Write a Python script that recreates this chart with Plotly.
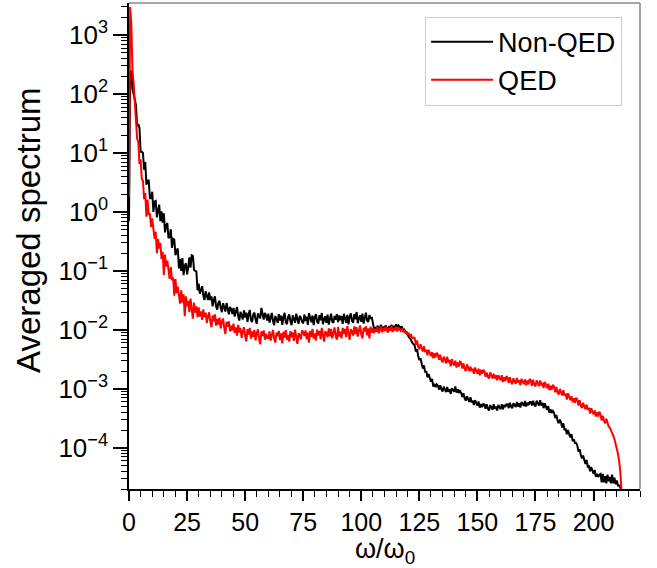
import plotly.graph_objects as go

# ---- data ----
# first samples near omega/omega0 = 0
x_head = [0, 0.5, 1, 1.5, 2, 2.5]
nonqed_head = [0.7, 200, 250, 120, 100, 75]
qed_head = [1.8, 3000, 1500, 250, 150, 70]

# samples for omega/omega0 = 3.0, 3.5, 4.0, ..., 212.0
x_step = 0.5
x_start = 3.0

nonqed_body = [
    # 3.0 - 29.5
    65, 28.5, 31, 27, 10.5, 10.5, 10, 5.2, 7, 2.9,
    3.4, 3.4, 1.7, 1.7, 2.2, 1.0, 1.5, 1.54, 0.81, 1.05,
    1.33, 0.7, 1.02, 0.66, 0.95, 0.45, 0.6, 0.65, 0.36, 0.38,
    0.51, 0.245, 0.35, 0.34, 0.185, 0.22, 0.24, 0.11, 0.16, 0.1,
    0.165, 0.085, 0.12, 0.135, 0.087, 0.115, 0.17, 0.114, 0.184, 0.18,
    0.104, 0.1, 0.098, 0.047,
    # 30.0 - 74.5
    0.061, 0.041, 0.048, 0.055, 0.038, 0.032, 0.045, 0.038, 0.032, 0.043,
    0.032, 0.037, 0.025, 0.032, 0.037, 0.025, 0.022, 0.029, 0.031, 0.0235,
    0.02, 0.0284, 0.0247, 0.0204, 0.0285, 0.0218, 0.0183, 0.0245, 0.0223, 0.0185,
    0.0236, 0.0168, 0.021, 0.0244, 0.0171, 0.0144, 0.0202, 0.018, 0.015, 0.0214,
    0.0162, 0.0196, 0.0136, 0.0184, 0.0218, 0.0148, 0.0136, 0.0182, 0.0196, 0.0149,
    0.0126, 0.0191, 0.0175, 0.0157, 0.0236, 0.0184, 0.0149, 0.0194, 0.0175, 0.0144,
    0.0189, 0.0133, 0.0164, 0.0194, 0.014, 0.012, 0.0172, 0.0153, 0.0132, 0.0185,
    0.0144, 0.0175, 0.0122, 0.0164, 0.0195, 0.0134, 0.0125, 0.0167, 0.0182, 0.014,
    0.012, 0.0176, 0.0157, 0.0132, 0.0188, 0.0147, 0.0126, 0.0173, 0.0161, 0.0137,
    # 75.0 - 104.5
    0.0129, 0.0182, 0.0141, 0.0167, 0.0122, 0.0192, 0.0155, 0.0134, 0.0175, 0.012,
    0.0164, 0.0185, 0.0137, 0.0128, 0.0178, 0.0146, 0.0193, 0.0125, 0.0152, 0.017,
    0.0132, 0.0181, 0.0123, 0.016, 0.0188, 0.0138, 0.0131, 0.0172, 0.0149, 0.0184,
    0.0135, 0.0176, 0.0146, 0.0171, 0.0126, 0.0187, 0.0159, 0.0131, 0.0179, 0.0124,
    0.0168, 0.019, 0.0142, 0.0133, 0.0185, 0.0152, 0.0201, 0.013, 0.0158, 0.0177,
    0.0137, 0.0188, 0.0128, 0.0166, 0.0196, 0.0144, 0.0136, 0.0179, 0.0155, 0.0165,
    # 105.0 - 122.5
    0.0125, 0.0104, 0.0112, 0.0097, 0.0118, 0.0101, 0.0109, 0.0121, 0.0099, 0.0113,
    0.0103, 0.0119, 0.0106, 0.0098, 0.0115, 0.0108, 0.0122, 0.0101, 0.0117, 0.0105,
    0.0124, 0.0109, 0.0119, 0.0113, 0.0108, 0.0114, 0.0099, 0.0101, 0.0094, 0.0091,
    0.0084, 0.0079, 0.0072, 0.0066, 0.006, 0.0056,
    # 123.0 - 212.0
    0.0054, 0.0043, 0.0047, 0.0036, 0.0031, 0.0033, 0.0028, 0.0022, 0.0025, 0.0019,
    0.002, 0.00156, 0.00178, 0.0015, 0.00132, 0.00147, 0.00109, 0.00122, 0.00107, 0.00119,
    0.00113, 0.00097, 0.00115, 0.00098, 0.0009, 0.00109, 0.00099, 0.00088, 0.00108, 0.00089,
    0.00098, 0.00082, 0.00102, 0.00093, 0.00089, 0.0011, 0.00086, 0.00098, 0.00085, 0.00092,
    0.00086, 0.00073, 0.00084, 0.00069, 0.00063, 0.00075, 0.00067, 0.0006, 0.00072, 0.00059,
    0.00063, 0.00053, 0.00064, 0.00056, 0.00052, 0.00061, 0.00048, 0.00055, 0.00049, 0.00055,
    0.00054, 0.00046, 0.00055, 0.00046, 0.00043, 0.00053, 0.00049, 0.00044, 0.00055, 0.00046,
    0.0005, 0.00043, 0.00053, 0.00048, 0.00045, 0.00055, 0.00045, 0.00053, 0.00049, 0.00055,
    0.00055, 0.00047, 0.00058, 0.0005, 0.00047, 0.00057, 0.00054, 0.00049, 0.0006, 0.0005,
    0.00057, 0.00048, 0.0006, 0.00054, 0.00051, 0.00062, 0.0005, 0.00058, 0.00053, 0.0006,
    0.0006, 0.00052, 0.00063, 0.00054, 0.0005, 0.00063, 0.00058, 0.00052, 0.00064, 0.00052,
    0.00058, 0.00047, 0.00057, 0.00049, 0.00044, 0.00051, 0.00039, 0.00045, 0.00039, 0.00042,
    0.00039, 0.00032, 0.00036, 0.00029, 0.00026, 0.0003, 0.00027, 0.00022, 0.00026, 0.0002,
    0.00021, 0.00017, 0.0002, 0.00017, 0.00015, 0.00017, 0.00013, 0.00014, 0.00012, 0.00012,
    0.00011, 0.000086, 0.000095, 0.000076, 0.000066, 0.000074, 0.000063, 0.000053, 0.000062, 0.000048,
    0.000049, 0.00004, 0.000047, 0.00004, 0.000036, 0.000042, 0.000032, 0.000036, 0.000032, 0.000035,
    0.000036, 0.000026, 0.000036, 0.000026, 0.000033, 0.000025, 0.000035, 0.000027, 0.000032, 0.000025,
    0.000035, 0.000025, 0.000031, 0.000024, 0.000028, 0.000023, 0.000023, 0.000021, 0.00002,
]

qed_body = [
    # 3.0 - 29.5
    44, 17.6, 15.4, 6.5, 7.8, 3.6, 3.4, 1.65, 2.1, 0.83,
    1.6, 0.89, 0.95, 0.56, 0.78, 0.48, 0.35, 0.46, 0.2, 0.35,
    0.24, 0.3, 0.16, 0.21, 0.085, 0.19, 0.118, 0.15, 0.105, 0.073,
    0.117, 0.07, 0.078, 0.038, 0.073, 0.042, 0.054, 0.039, 0.028, 0.047,
    0.029, 0.04, 0.017, 0.037, 0.025, 0.031, 0.02, 0.034, 0.023, 0.0155,
    0.029, 0.0196, 0.025, 0.0164,
    # 30.0 - 59.5
    0.024, 0.0168, 0.0205, 0.0148, 0.0223, 0.0164, 0.0196, 0.0131, 0.0168, 0.0198,
    0.0139, 0.0111, 0.0176, 0.014, 0.0183, 0.0118, 0.0154, 0.0123, 0.0161, 0.0106,
    0.0137, 0.0156, 0.0109, 0.0085, 0.0138, 0.0113, 0.0139, 0.0094, 0.0118, 0.0098,
    0.0127, 0.0089, 0.011, 0.008, 0.0122, 0.009, 0.0108, 0.0073, 0.0094, 0.0111,
    0.0079, 0.0064, 0.0103, 0.0083, 0.0108, 0.0071, 0.0094, 0.0076, 0.01, 0.0066,
    0.0087, 0.0102, 0.0071, 0.0057, 0.0094, 0.0079, 0.0098, 0.0068, 0.0086, 0.0073,
    # 60.0 - 104.5
    0.0072, 0.0094, 0.0066, 0.0085, 0.01, 0.007, 0.0061, 0.009, 0.0078, 0.0096,
    0.0067, 0.0087, 0.0059, 0.0093, 0.0074, 0.0099, 0.0068, 0.0082, 0.0063, 0.0095,
    0.0075, 0.009, 0.0065, 0.0101, 0.0071, 0.0058, 0.0088, 0.0081, 0.0069, 0.0098,
    0.0091, 0.0079, 0.0098, 0.0069, 0.009, 0.0061, 0.0096, 0.0076, 0.0104, 0.0071,
    0.0087, 0.0066, 0.0101, 0.008, 0.0096, 0.0069, 0.0108, 0.0077, 0.0063, 0.0095,
    0.0088, 0.0075, 0.0106, 0.0078, 0.0104, 0.0072, 0.0093, 0.011, 0.0077, 0.0068,
    0.0112, 0.0077, 0.0093, 0.0072, 0.0108, 0.0086, 0.0104, 0.0075, 0.0116, 0.0082,
    0.0068, 0.0102, 0.0094, 0.008, 0.0115, 0.0085, 0.0111, 0.0077, 0.0101, 0.0119,
    0.0083, 0.0072, 0.0108, 0.0094, 0.0115, 0.0081, 0.0106, 0.0072, 0.0113, 0.0089,
    # 105.0 - 122.5
    0.0108, 0.0088, 0.0104, 0.0093, 0.0112, 0.0087, 0.0101, 0.0113, 0.0091, 0.0106,
    0.0095, 0.0114, 0.0099, 0.009, 0.0109, 0.0097, 0.0115, 0.0092, 0.0107, 0.0098,
    0.0113, 0.0094, 0.0108, 0.0101, 0.0096, 0.0105, 0.0092, 0.0097, 0.0088, 0.0094,
    0.0083, 0.0088, 0.0078, 0.0081, 0.0072, 0.0074,
    # 123.0 - 212.0
    0.0073, 0.0056, 0.0066, 0.0052, 0.0047, 0.0057, 0.005, 0.0043, 0.0053, 0.0042,
    0.0046, 0.0037, 0.0046, 0.004, 0.0036, 0.0042, 0.0033, 0.004, 0.0034, 0.0041,
    0.0038, 0.0031, 0.0038, 0.0031, 0.0028, 0.0035, 0.0032, 0.0027, 0.0035, 0.0028,
    0.0031, 0.0024, 0.0032, 0.0027, 0.0025, 0.003, 0.0023, 0.0028, 0.0024, 0.0029,
    0.0028, 0.0022, 0.0027, 0.0022, 0.002, 0.0026, 0.0022, 0.002, 0.0024, 0.002,
    0.0022, 0.0018, 0.0023, 0.002, 0.0018, 0.0022, 0.0017, 0.0021, 0.0018, 0.0021,
    0.002, 0.0016, 0.0019, 0.0016, 0.0015, 0.0019, 0.0017, 0.0015, 0.0018, 0.0015,
    0.0017, 0.0014, 0.0017, 0.0015, 0.0014, 0.0017, 0.0013, 0.00157, 0.00134, 0.00164,
    0.00154, 0.00125, 0.00157, 0.0013, 0.0012, 0.00151, 0.00138, 0.00122, 0.00153, 0.00128,
    0.0014, 0.00115, 0.00148, 0.0013, 0.0012, 0.00144, 0.00115, 0.00138, 0.00119, 0.00147,
    0.00139, 0.00113, 0.00143, 0.00119, 0.0011, 0.00139, 0.00125, 0.00111, 0.00139, 0.00115,
    0.00127, 0.00103, 0.00131, 0.00113, 0.00103, 0.00122, 0.00095, 0.00113, 0.00097, 0.00117,
    0.00109, 0.00087, 0.00108, 0.00088, 0.0008, 0.001, 0.00089, 0.00077, 0.00095, 0.00077,
    0.00083, 0.00066, 0.00084, 0.00071, 0.00064, 0.00075, 0.00059, 0.00069, 0.00058, 0.00071,
    0.00065, 0.00052, 0.00064, 0.00052, 0.00047, 0.00058, 0.00051, 0.00045, 0.00054, 0.00044,
    0.00048, 0.00038, 0.00047, 0.00041, 0.00037, 0.00043, 0.00034, 0.0004, 0.00034, 0.00041,
    0.00037, 0.00029, 0.00035, 0.00029, 0.00026, 0.00031, 0.00026, 0.00023, 0.00022, 0.0002,
    0.00018, 0.00016, 0.00014, 0.00012, 0.0001, 0.00008, 0.00006, 0.00004, 0.00002,
]

x_ticks = [0, 25, 50, 75, 100, 125, 150, 175, 200]
y_ticks = [1e-4, 1e-3, 1e-2, 1e-1, 1e0, 1e1, 1e2, 1e3]
y_ticktext = ["10<sup>\u22124</sup>", "10<sup>\u22123</sup>", "10<sup>\u22122</sup>",
              "10<sup>\u22121</sup>", "10<sup>0</sup>", "10<sup>1</sup>",
              "10<sup>2</sup>", "10<sup>3</sup>"]
x_title = "\u03c9/\u03c9<sub>0</sub>"
y_title = "Averaged spectrum"

x_nonqed = x_head + [x_start + x_step * i for i in range(len(nonqed_body))]
x_qed = x_head + [x_start + x_step * i for i in range(len(qed_body))]
y_nonqed = nonqed_head + nonqed_body
y_qed = qed_head + qed_body

minor_y = [m * 10 ** e for e in range(-5, 4) for m in range(2, 10)]

FONT = "Liberation Sans, Arial, Helvetica, sans-serif"

fig = go.Figure()
fig.add_trace(go.Scatter(x=x_nonqed, y=y_nonqed, mode="lines", name="Non-QED",
                         line=dict(color="black", width=2)))
fig.add_trace(go.Scatter(x=x_qed, y=y_qed, mode="lines", name="QED",
                         line=dict(color="red", width=2)))

fig.update_layout(
    width=657, height=568,
    margin=dict(l=129, r=17, t=3, b=79),
    paper_bgcolor="white", plot_bgcolor="white",
    font=dict(family=FONT, size=26, color="black"),
    showlegend=True,
    legend=dict(x=0.5795, y=0.972, xanchor="left", yanchor="top",
                bgcolor="white", bordercolor="#cccccc", borderwidth=1,
                font=dict(size=27, family=FONT), itemwidth=62,
                tracegroupgap=0),
    xaxis=dict(range=[0, 220], tickmode="array", tickvals=x_ticks,
               ticks="outside", ticklen=10, tickwidth=1.5, tickcolor="black",
               showline=True, linecolor="black", linewidth=1.5,
               showgrid=False, zeroline=False, automargin=False,
               tickfont=dict(size=25, family=FONT),
               minor=dict(ticks="outside", ticklen=6, tickwidth=1.2,
                          tickcolor="black", dtick=5, tick0=0, showgrid=False)),
    yaxis=dict(type="log", range=[-4.699, 3.544], tickmode="array",
               tickvals=y_ticks, ticktext=y_ticktext,
               ticks="outside", ticklen=14, tickwidth=1.5, tickcolor="black",
               showline=True, linecolor="black", linewidth=1.5,
               showgrid=False, zeroline=False, automargin=False,
               tickfont=dict(size=26, family=FONT),
               minor=dict(ticks="outside", ticklen=6, tickwidth=1,
                          tickcolor="black", tickvals=minor_y, showgrid=False)),
    annotations=[
        dict(text=y_title, xref="paper", yref="paper", x=-0.1957, y=0.533,
             xanchor="center", yanchor="middle", textangle=-90, showarrow=False,
             font=dict(size=33, family=FONT, color="black")),
        dict(text=x_title, xref="paper", yref="paper", x=0.5, y=-0.128,
             xanchor="center", yanchor="middle", showarrow=False,
             font=dict(size=27, family=FONT, color="black")),
    ],
    shapes=[
        dict(type="line", xref="paper", yref="paper", x0=0, x1=1, y0=1, y1=1,
             line=dict(color="#888888", width=1.5)),
        dict(type="line", xref="paper", yref="paper", x0=1, x1=1, y0=0, y1=1,
             line=dict(color="#888888", width=1.5)),
    ],
)

fig.write_html("out.html", config={"displayModeBar": False},
               post_script="document.body.style.margin='0px';document.body.style.padding='0px';")
